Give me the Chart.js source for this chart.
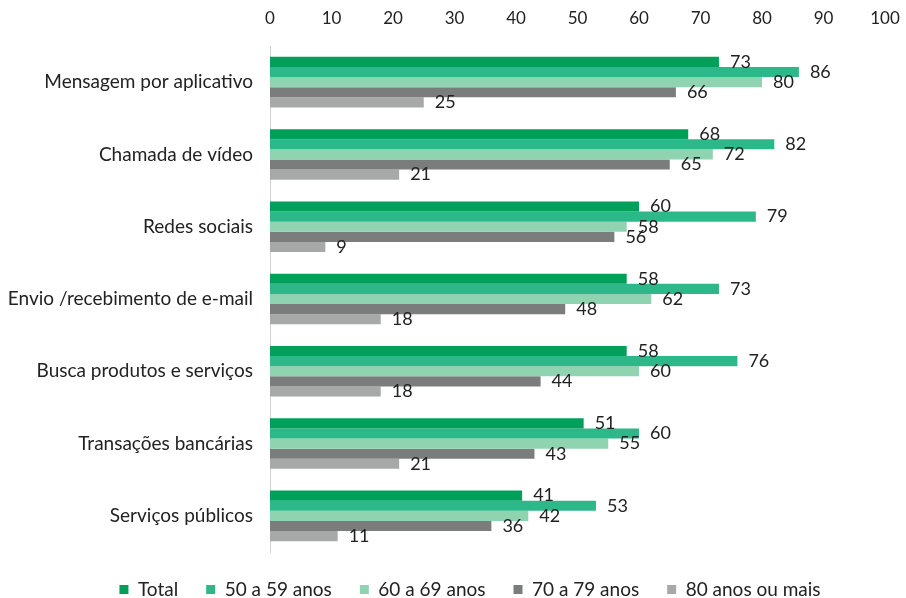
<!DOCTYPE html>
<html>
<head>
<meta charset="utf-8">
<script src="https://cdn.jsdelivr.net/npm/chart.js@4.4.0/dist/chart.umd.min.js"></script>
<style>
  html, body { margin: 0; padding: 0; background: #fff; }
  #wrap { width: 906px; height: 598px; }
</style>
</head>
<body>
<div id="wrap"><canvas id="myChart" width="906" height="598"></canvas></div>
<script>
// categorias e séries
const categories = [
  "Mensagem por aplicativo",
  "Chamada de vídeo",
  "Redes sociais",
  "Envio /recebimento de e-mail",
  "Busca produtos e serviços",
  "Transações bancárias",
  "Serviços públicos"
];
const seriesNames = ["Total", "50 a 59 anos", "60 a 69 anos", "70 a 79 anos", "80 anos ou mais"];
const total = [73, 68, 60, 58, 58, 51, 41];
const age50 = [86, 82, 79, 73, 76, 60, 53];
const age60 = [80, 72, 58, 62, 60, 55, 42];
const age70 = [66, 65, 56, 48, 44, 43, 36];
const age80 = [25, 21, 9, 18, 18, 21, 11];
const xTicks = [0, 10, 20, 30, 40, 50, 60, 70, 80, 90, 100];

const barColors = ["#00a05a", "#2db88a", "#8fd3b1", "#7b7d7d", "#a7a9a9"];
const seriesValues = [total, age50, age60, age70, age80];

const FONT = "Lato, 'Open Sans', sans-serif";

// rótulos de valor ao lado das barras
const valueLabels = {
  id: "valueLabels",
  afterDatasetsDraw(chart) {
    const ctx = chart.ctx;
    ctx.save();
    ctx.font = "18px " + FONT;
    ctx.fillStyle = "#222";
    ctx.textBaseline = "middle";
    ctx.textAlign = "left";
    chart.data.datasets.forEach((ds, i) => {
      const meta = chart.getDatasetMeta(i);
      meta.data.forEach((bar, j) => {
        ctx.fillText(ds.data[j], bar.x + 11, bar.y);
      });
    });
    ctx.restore();
  }
};

new Chart("myChart", {
  type: "bar",
  data: {
    labels: categories,
    datasets: seriesNames.map((name, i) => ({
      label: name,
      data: seriesValues[i],
      backgroundColor: barColors[i],
      categoryPercentage: 0.70,
      barPercentage: 1.0
    }))
  },
  options: {
    indexAxis: "y",
    responsive: false,
    animation: false,
    // negative right padding only shifts the legend; x axis keeps its own right padding
    layout: { padding: { left: 0, right: -34, top: 0, bottom: -11 } },
    plugins: {
      legend: {
        position: "bottom",
        labels: {
          font: { family: FONT, size: 19 },
          color: "#222",
          boxWidth: 9,
          boxHeight: 9,
          padding: 28
        }
      },
      tooltip: { enabled: false }
    },
    scales: {
      x: {
        position: "top",
        min: 0,
        max: 100,
        afterBuildTicks: (s) => { s.ticks = xTicks.map(v => ({ value: v })); },
        afterFit: (s) => { s.height = 46; s.paddingLeft = 0; s.paddingRight = 21; },
        grid: { display: false, drawTicks: false },
        border: { display: false },
        ticks: {
          font: { family: FONT, size: 17 },
          color: "#222",
          padding: 17,
          maxRotation: 0
        }
      },
      y: {
        grid: { display: false, drawTicks: false },
        border: { display: true, color: "#d0d0d0", width: 1 },
        afterFit: (s) => { s.width = 270; },
        ticks: {
          font: { family: FONT, size: 19 },
          color: "#222",
          padding: 17
        }
      }
    }
  },
  plugins: [valueLabels]
});
</script>
</body>
</html>
